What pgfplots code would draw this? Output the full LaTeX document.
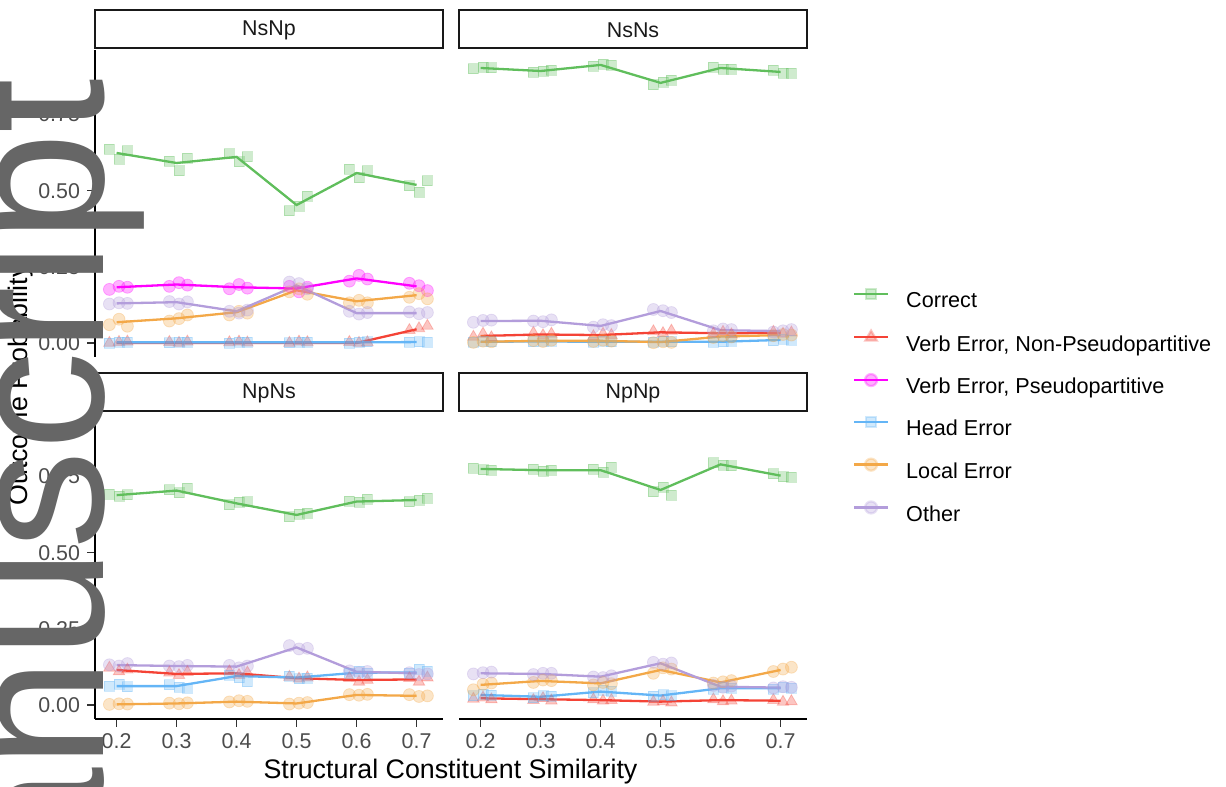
\documentclass[border=0pt]{standalone}
\usepackage{pgfplots}
\pgfplotsset{compat=1.18}
\usepackage{pgfplotstable}
\usepackage{fontspec}
\setmainfont{Liberation Sans}

\definecolor{corG}{RGB}{96,190,92}
\definecolor{vnpR}{RGB}{244,67,54}
\definecolor{vpM}{RGB}{255,0,255}
\definecolor{headB}{RGB}{100,181,246}
\definecolor{locO}{RGB}{243,168,72}
\definecolor{othP}{RGB}{179,157,219}
\definecolor{wm}{RGB}{102,102,102}

% ---------- NsNp ----------
\pgfplotstableread{
x cor vnp vp head loc oth
0.2 0.624 0.000 0.183 0.002 0.068 0.130
0.3 0.591 0.000 0.192 0.002 0.081 0.134
0.4 0.611 0.000 0.183 0.002 0.101 0.104
0.5 0.453 0.000 0.179 0.002 0.173 0.189
0.6 0.558 0.000 0.212 0.002 0.137 0.098
0.7 0.519 0.045 0.186 0.003 0.157 0.098
}\mNsNp
\pgfplotstableread{
x cor vnp vp head loc oth
0.188 0.636 0.000 0.176 0.000 0.060 0.128
0.204 0.604 0.003 0.186 0.002 0.078 0.132
0.218 0.632 0.004 0.183 0.003 0.055 0.130
0.288 0.596 0.003 0.186 0.001 0.072 0.136
0.304 0.566 0.000 0.198 0.003 0.080 0.128
0.318 0.607 0.004 0.190 0.002 0.092 0.135
0.388 0.621 0.002 0.178 0.000 0.092 0.104
0.404 0.595 0.004 0.192 0.003 0.104 0.098
0.418 0.612 0.001 0.180 0.002 0.098 0.108
0.488 0.435 0.000 0.186 0.001 0.168 0.200
0.504 0.450 0.004 0.168 0.003 0.178 0.195
0.518 0.482 0.002 0.183 0.002 0.160 0.178
0.588 0.571 0.003 0.203 0.000 0.132 0.104
0.604 0.543 0.000 0.222 0.002 0.140 0.095
0.618 0.566 0.002 0.210 0.004 0.132 0.100
0.688 0.516 0.042 0.196 0.002 0.150 0.102
0.704 0.495 0.048 0.188 0.004 0.162 0.096
0.718 0.533 0.056 0.172 0.003 0.145 0.100
}\pNsNp
% ---------- NsNs ----------
\pgfplotstableread{
x cor vnp head loc oth
0.2 0.903 0.023 0.004 0.004 0.072
0.3 0.893 0.028 0.005 0.007 0.073
0.4 0.913 0.026 0.004 0.007 0.056
0.5 0.854 0.035 0.004 0.003 0.105
0.6 0.903 0.032 0.004 0.021 0.042
0.7 0.890 0.033 0.010 0.026 0.039
}\mNsNs
\pgfplotstableread{
x cor vnp head loc oth
0.188 0.901 0.020 0.003 0.002 0.068
0.204 0.906 0.030 0.005 0.006 0.074
0.218 0.904 0.018 0.004 0.004 0.075
0.288 0.890 0.033 0.004 0.008 0.072
0.304 0.892 0.025 0.006 0.005 0.070
0.318 0.896 0.030 0.005 0.009 0.076
0.388 0.908 0.022 0.003 0.005 0.052
0.404 0.916 0.030 0.005 0.009 0.060
0.418 0.913 0.026 0.004 0.006 0.057
0.488 0.848 0.038 0.003 0.001 0.110
0.504 0.857 0.032 0.005 0.004 0.106
0.518 0.862 0.040 0.004 0.002 0.100
0.588 0.906 0.030 0.003 0.018 0.040
0.604 0.899 0.036 0.004 0.024 0.046
0.618 0.898 0.028 0.005 0.020 0.044
0.688 0.896 0.036 0.008 0.024 0.036
0.704 0.886 0.030 0.012 0.028 0.040
0.718 0.886 0.034 0.010 0.026 0.044
}\pNsNs
% ---------- NpNs ----------
\pgfplotstableread{
x cor vnp head loc oth
0.2 0.689 0.115 0.062 0.002 0.131
0.3 0.704 0.102 0.062 0.005 0.128
0.4 0.662 0.104 0.095 0.011 0.126
0.5 0.624 0.088 0.090 0.005 0.189
0.6 0.668 0.082 0.106 0.033 0.109
0.7 0.673 0.084 0.107 0.030 0.104
}\mNpNs
\pgfplotstableread{
x cor vnp head loc oth
0.188 0.693 0.122 0.062 0.002 0.132
0.204 0.685 0.110 0.068 0.004 0.128
0.218 0.690 0.116 0.060 0.003 0.136
0.288 0.707 0.106 0.066 0.006 0.128
0.304 0.697 0.098 0.058 0.004 0.126
0.318 0.712 0.108 0.055 0.007 0.130
0.388 0.658 0.110 0.098 0.010 0.130
0.404 0.666 0.098 0.090 0.014 0.122
0.418 0.668 0.106 0.076 0.012 0.128
0.488 0.618 0.092 0.094 0.003 0.195
0.504 0.626 0.086 0.086 0.006 0.184
0.518 0.630 0.090 0.088 0.008 0.186
0.588 0.670 0.088 0.104 0.034 0.112
0.604 0.666 0.076 0.110 0.032 0.106
0.618 0.675 0.082 0.104 0.035 0.110
0.688 0.668 0.088 0.104 0.034 0.106
0.704 0.672 0.076 0.118 0.028 0.100
0.718 0.678 0.090 0.110 0.030 0.102
}\pNpNs
% ---------- NpNp ----------
\pgfplotstableread{
x cor vnp head loc oth
0.2 0.775 0.022 0.033 0.066 0.104
0.3 0.771 0.019 0.027 0.079 0.102
0.4 0.771 0.016 0.044 0.071 0.093
0.5 0.706 0.011 0.031 0.115 0.137
0.6 0.790 0.016 0.055 0.074 0.060
0.7 0.753 0.014 0.055 0.115 0.057
}\mNpNp
\pgfplotstableread{
x cor vnp head loc oth
0.188 0.777 0.020 0.030 0.050 0.102
0.204 0.772 0.024 0.036 0.068 0.106
0.218 0.770 0.018 0.032 0.072 0.108
0.288 0.775 0.016 0.024 0.074 0.100
0.304 0.768 0.022 0.030 0.082 0.104
0.318 0.771 0.014 0.028 0.080 0.104
0.388 0.774 0.018 0.040 0.066 0.092
0.404 0.765 0.014 0.048 0.074 0.090
0.418 0.780 0.016 0.046 0.070 0.096
0.488 0.700 0.010 0.028 0.104 0.140
0.504 0.716 0.012 0.034 0.122 0.134
0.518 0.688 0.008 0.030 0.118 0.138
0.588 0.795 0.018 0.052 0.072 0.064
0.604 0.788 0.012 0.058 0.076 0.058
0.618 0.786 0.014 0.056 0.080 0.062
0.688 0.760 0.016 0.052 0.110 0.056
0.704 0.750 0.010 0.058 0.118 0.060
0.718 0.748 0.012 0.056 0.124 0.058
}\pNpNp

\pgfplotsset{
  panel/.style={scale only axis, width=174bp, height=153.5bp,
    xmin=0.164, xmax=0.744, ymin=-0.046, ymax=0.962, anchor=north west,
    axis x line*=bottom, axis y line*=left,
    axis line style={-, line width=1bp, black},
    tick align=outside, major tick length=4bp,
    tick style={line width=0.6bp, color=black!80},
    ticklabel style={font=\fontsize{10.7bp}{12bp}\selectfont, text=black!70},
    xtick={0.2,0.3,0.4,0.5,0.6,0.7}, xticklabels={0.2,0.3,0.4,0.5,0.6,0.7},
    ytick={0,0.25,0.5,0.75}, yticklabels={0.00,0.25,0.50,0.75},
    legend image code/.code={\draw[mark repeat=2,mark phase=2,#1] plot coordinates {(0bp,3.9bp) (8.5bp,3.9bp) (17bp,3.9bp)};},
  },
  notx/.style={xtick=\empty, x axis line style={draw=none}},
  noty/.style={ytick=\empty, y axis line style={draw=none}},
  pts/.style={only marks, forget plot, mark options={solid, fill opacity=0.3, draw opacity=0.3}},
  ml/.style={line width=1.15bp, mark=none, forget plot},
  sq/.style={mark=square*, mark size=2.5bp},
  tri/.style={mark=triangle*, mark size=3.3bp},
  cir/.style={mark=*, mark size=3bp},
}

\newcommand{\panelplots}[3]{%
  \addplot[corG, pts, sq] table[x=x,y=cor]{#2};
  \addplot[vnpR, pts, tri] table[x=x,y=vnp]{#2};
  #3
  \addplot[headB, pts, sq] table[x=x,y=head]{#2};
  \addplot[locO, pts, cir] table[x=x,y=loc]{#2};
  \addplot[othP, pts, cir] table[x=x,y=oth]{#2};
  \addplot[corG, ml] table[x=x,y=cor]{#1};
  \addplot[vnpR, ml] table[x=x,y=vnp]{#1};
  \addplot[headB, ml] table[x=x,y=head]{#1};
  \addplot[locO, ml] table[x=x,y=loc]{#1};
  \addplot[othP, ml] table[x=x,y=oth]{#1};
}

\begin{document}
\begin{tikzpicture}
\useasboundingbox (0,0) rectangle (613bp,-393.5bp);

% top-left NsNp
\begin{axis}[panel, notx, at={(47.5bp,-25bp)}]
  \panelplots{\mNsNp}{\pNsNp}{\addplot[vpM, pts, cir] table[x=x,y=vp]{\pNsNp};}
  \addplot[vpM, ml] table[x=x,y=vp]{\mNsNp};
\end{axis}

% top-right NsNs (with legend)
\begin{axis}[panel, notx, noty, at={(229.5bp,-25bp)},
  legend style={at={(1.132,0.222)}, anchor=north west, draw=none, fill=none,
    inner sep=0pt, outer sep=0pt, row sep=9bp,
    font=\fontsize{10.8bp}{12bp}\selectfont,
    nodes={inner sep=0pt, text height=8.5bp, text depth=2.5bp},
    /tikz/every odd column/.append style={column sep=8.5bp}},
  legend cell align=left]
  \addlegendimage{corG, line width=1.15bp, sq, mark options={solid, fill opacity=0.3, draw opacity=0.3}}
  \addlegendentry{Correct}
  \addlegendimage{vnpR, line width=1.15bp, tri, mark options={solid, fill opacity=0.3, draw opacity=0.3}}
  \addlegendentry{Verb Error, Non-Pseudopartitive}
  \addlegendimage{vpM, line width=1.15bp, cir, mark options={solid, fill opacity=0.3, draw opacity=0.3}}
  \addlegendentry{Verb Error, Pseudopartitive}
  \addlegendimage{headB, line width=1.15bp, sq, mark options={solid, fill opacity=0.3, draw opacity=0.3}}
  \addlegendentry{Head Error}
  \addlegendimage{locO, line width=1.15bp, cir, mark options={solid, fill opacity=0.3, draw opacity=0.3}}
  \addlegendentry{Local Error}
  \addlegendimage{othP, line width=1.15bp, cir, mark options={solid, fill opacity=0.3, draw opacity=0.3}}
  \addlegendentry{Other}
  \panelplots{\mNsNs}{\pNsNs}{}
\end{axis}

% bottom-left NpNs
\begin{axis}[panel, at={(47.5bp,-206bp)}]
  \panelplots{\mNpNs}{\pNpNs}{}
\end{axis}

% bottom-right NpNp
\begin{axis}[panel, noty, at={(229.5bp,-206bp)}]
  \panelplots{\mNpNp}{\pNpNp}{}
\end{axis}

% strips
\tikzset{striptext/.style={font=\fontsize{10.7bp}{12bp}\selectfont, text=black!90}}
\draw[line width=1.3bp, black!90] (47.5bp,-5bp) rectangle (221.5bp,-24bp);
\node[striptext] at (134.5bp,-15bp) {NsNp};
\draw[line width=1.3bp, black!90] (229.5bp,-5bp) rectangle (403.5bp,-24bp);
\node[striptext] at (316.5bp,-15bp) {NsNs};
\draw[line width=1.3bp, black!90] (47.5bp,-186.5bp) rectangle (221.5bp,-205.5bp);
\node[striptext] at (134.5bp,-196.5bp) {NpNs};
\draw[line width=1.3bp, black!90] (229.5bp,-186.5bp) rectangle (403.5bp,-205.5bp);
\node[striptext] at (316.5bp,-196.5bp) {NpNp};

% axis titles
\node[anchor=base, font=\fontsize{13.4bp}{15bp}\selectfont] at (225.25bp,-389bp) {Structural Constituent Similarity};
\node[anchor=base, rotate=90, font=\fontsize{13.4bp}{15bp}\selectfont] at (13.5bp,-192.5bp) {Outcome Probability};

% watermark
\node[anchor=base east, rotate=90, inner sep=0pt, text=wm, font=\fontsize{98.5bp}{100bp}\selectfont] at (51.5bp,-39bp) {anuscript};
\end{tikzpicture}
\end{document}
